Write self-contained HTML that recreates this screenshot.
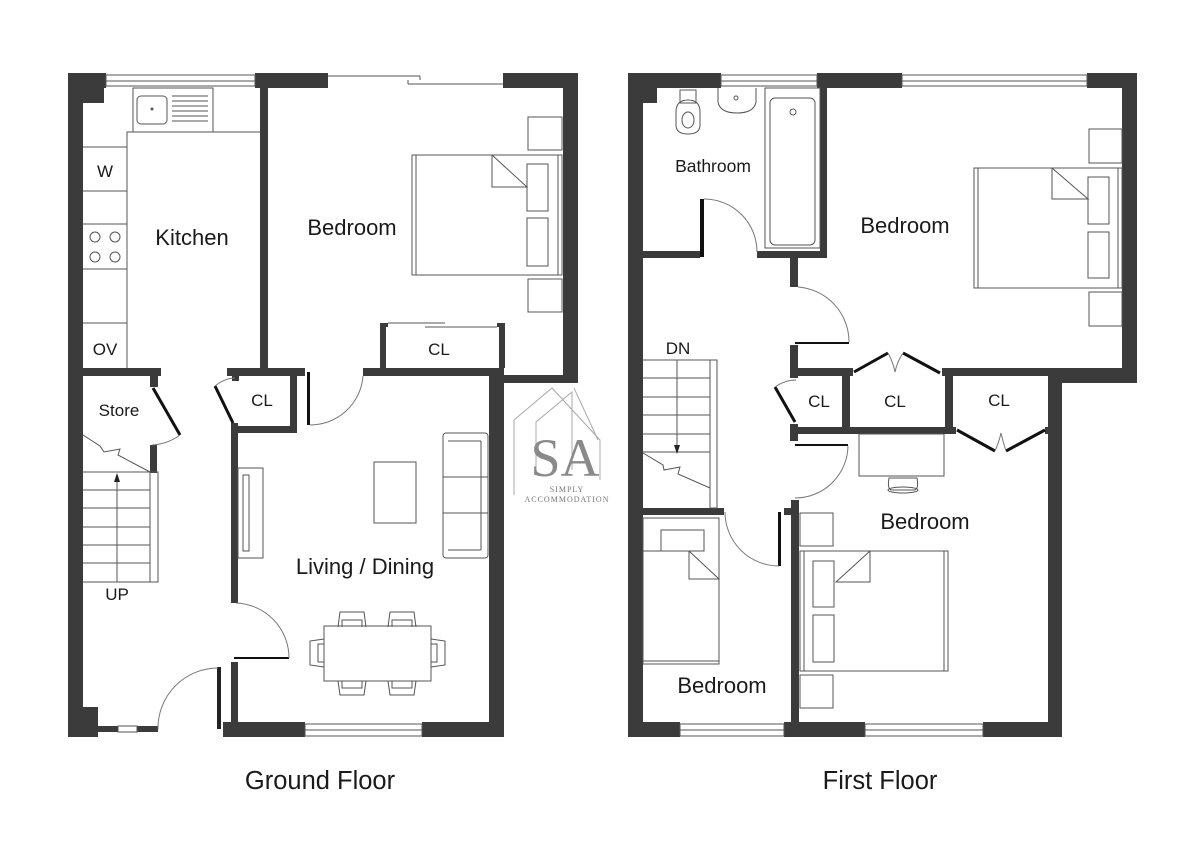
<!DOCTYPE html>
<html><head><meta charset="utf-8"><style>
html,body{margin:0;padding:0;background:#fff}
svg{display:block}
text{font-family:"Liberation Sans",sans-serif;fill:#1a1a1a}
.w{fill:#3b3b3b}
.t{fill:none;stroke:#555;stroke-width:1}
.d{fill:none;stroke:#111;stroke-width:3}
.a{fill:none;stroke:#777;stroke-width:1}
</style></head><body>
<svg width="1200" height="848" viewBox="0 0 1200 848" xmlns="http://www.w3.org/2000/svg">
<rect width="1200" height="848" fill="#fff"/>

<!-- ================= GROUND FLOOR ================= -->
<g>
<rect class="w" x="68" y="73" width="15" height="664"/>
<rect class="w" x="68" y="73" width="38" height="15"/>
<rect class="w" x="83" y="88" width="21" height="15"/>
<rect class="w" x="255" y="73" width="73" height="15"/>
<rect class="w" x="503" y="73" width="75" height="15"/>
<rect class="w" x="563" y="73" width="15" height="310"/>
<rect class="w" x="489" y="375" width="89" height="8"/>
<rect class="w" x="489" y="368" width="15" height="369"/>
<rect class="t" x="106" y="75" width="149" height="11"/><line class="t" x1="106" y1="81" x2="255" y2="81"/>
<line class="t" x1="328" y1="76" x2="420" y2="76"/><line class="t" x1="420" y1="76" x2="420" y2="80"/>
<line class="t" x1="408" y1="84" x2="503" y2="84"/><line class="t" x1="408" y1="80" x2="408" y2="84"/>
<rect class="w" x="260" y="88" width="8" height="288"/>
<rect class="w" x="68" y="368" width="93" height="8"/>
<rect class="w" x="150" y="376" width="8" height="11"/>
<rect class="w" x="150" y="445" width="7" height="28"/>
<rect class="w" x="227" y="368" width="78" height="8"/>
<rect class="w" x="232" y="376" width="7" height="5"/>
<rect class="w" x="290" y="368" width="7" height="65"/>
<rect class="w" x="231" y="426" width="66" height="7"/>
<rect class="w" x="231" y="423" width="7" height="180"/>
<rect class="w" x="231" y="662" width="7" height="75"/>
<rect class="w" x="363" y="368" width="140" height="8"/>
<rect class="w" x="68" y="707" width="30" height="30"/>
<rect class="w" x="98" y="726" width="20" height="6"/>
<rect class="w" x="137" y="726" width="21" height="6"/>
<rect class="t" x="118" y="726" width="19" height="6"/>
<rect class="w" x="223" y="722" width="82" height="15"/>
<rect class="w" x="422" y="722" width="82" height="15"/>
<rect class="t" x="305" y="724" width="117" height="12"/><line class="t" x1="305" y1="730" x2="422" y2="730"/>
<rect x="217" y="667" width="4" height="62" fill="#222"/>
<path class="a" d="M158 729 A60 60 0 0 1 218 668"/>
<line x1="234" y1="658" x2="289" y2="658" stroke="#111" stroke-width="2"/>
<path class="a" d="M236 603 A55 55 0 0 1 289 658"/>
<rect x="307" y="372" width="3" height="53" fill="#111"/>
<path class="a" d="M310 425 A53 53 0 0 0 363 376"/>
<line class="d" x1="153" y1="388" x2="180" y2="435"/>
<path class="a" d="M180 435 Q168 444 152 445"/>
<line class="d" x1="215" y1="386" x2="233" y2="423"/>
<path class="a" d="M215 386 Q225 378 235 378"/>
<rect class="t" x="133" y="88" width="80" height="44"/>
<rect class="t" x="137" y="96" width="30" height="28" rx="4"/>
<circle cx="152" cy="109" r="1.5" fill="#555"/>
<g class="t"><line x1="172" y1="96" x2="208" y2="96"/><line x1="172" y1="101" x2="208" y2="101"/><line x1="172" y1="106" x2="208" y2="106"/><line x1="172" y1="111" x2="208" y2="111"/><line x1="172" y1="116" x2="208" y2="116"/><line x1="172" y1="121" x2="208" y2="121"/></g>
<polyline class="t" points="260,132 127,132 127,368"/>
<line class="t" x1="83" y1="147" x2="127" y2="147"/><line class="t" x1="83" y1="191" x2="127" y2="191"/>
<line class="t" x1="83" y1="224" x2="127" y2="224"/><line class="t" x1="83" y1="269" x2="127" y2="269"/>
<line class="t" x1="83" y1="323" x2="127" y2="323"/>
<circle class="t" cx="95" cy="237" r="5"/><circle class="t" cx="115" cy="237" r="5"/>
<circle class="t" cx="95" cy="257" r="5"/><circle class="t" cx="115" cy="257" r="5"/>
<g class="t">
<line x1="83" y1="472" x2="150" y2="472"/><line x1="83" y1="490" x2="150" y2="490"/><line x1="83" y1="508" x2="150" y2="508"/><line x1="83" y1="527" x2="150" y2="527"/><line x1="83" y1="545" x2="150" y2="545"/><line x1="83" y1="563" x2="150" y2="563"/><line x1="83" y1="582" x2="150" y2="582"/>
<rect x="150" y="472" width="8" height="110"/>
<line x1="117" y1="582" x2="117" y2="478"/>
<polyline points="83,435 100,446 104,452 120,449 118,455 150,472"/>
</g>
<polygon points="117,473 114,482 120,482" fill="#222"/>
<rect class="t" x="528" y="117" width="34" height="33"/>
<rect class="t" x="528" y="279" width="34" height="33"/>
<rect class="t" x="412" y="155" width="150" height="120"/>
<line class="t" x1="416" y1="155" x2="416" y2="275"/><line class="t" x1="558" y1="155" x2="558" y2="275"/>
<rect class="t" x="527" y="164" width="21" height="47"/>
<rect class="t" x="527" y="218" width="21" height="48"/>
<polyline class="t" points="492,155 492,187 527,187 492,155"/>
<rect class="w" x="380" y="323" width="6" height="45"/>
<rect class="w" x="380" y="323" width="8" height="4"/>
<rect class="w" x="499" y="323" width="6" height="45"/>
<rect class="w" x="497" y="323" width="8" height="4"/>
<line class="t" x1="388" y1="323" x2="445" y2="323"/><line class="t" x1="425" y1="327" x2="497" y2="327"/>
<rect class="t" x="238" y="468" width="25" height="90"/>
<rect class="t" x="243" y="475" width="6" height="76"/>
<rect class="t" x="374" y="462" width="42" height="61"/>
<rect class="t" x="443" y="433" width="45" height="125" rx="3"/>
<line class="t" x1="481" y1="441" x2="481" y2="550"/><line class="t" x1="448" y1="441" x2="481" y2="441"/><line class="t" x1="448" y1="550" x2="481" y2="550"/>
<line class="t" x1="443" y1="477" x2="488" y2="477"/><line class="t" x1="443" y1="513" x2="488" y2="513"/>
<rect class="t" x="324" y="626" width="107" height="55"/>
<path class="t" d="M338 627 L340 612 H364 L366 627 M342 627 V620 H362 V627"/>
<path class="t" d="M388 627 L390 612 H414 L416 627 M392 627 V620 H412 V627"/>
<path class="t" d="M338 681 L340 695 H364 L366 681 M342 681 V688 H362 V681"/>
<path class="t" d="M388 681 L390 695 H414 L416 681 M392 681 V688 H412 V681"/>
<path class="t" d="M324 639 L310 641 V665 L324 667 M324 644 H318 V662 H324"/>
<path class="t" d="M431 639 L445 641 V665 L431 667 M431 644 H437 V662 H431"/>
<text x="192" y="245" font-size="22" text-anchor="middle">Kitchen</text>
<text x="352" y="235" font-size="22" text-anchor="middle">Bedroom</text>
<text x="105" y="177" font-size="17" text-anchor="middle">W</text>
<text x="105" y="355" font-size="17" text-anchor="middle">OV</text>
<text x="119" y="416" font-size="17" text-anchor="middle">Store</text>
<text x="262" y="406" font-size="17" text-anchor="middle">CL</text>
<text x="439" y="355" font-size="17" text-anchor="middle">CL</text>
<text x="365" y="574" font-size="22" text-anchor="middle">Living / Dining</text>
<text x="117" y="600" font-size="17" text-anchor="middle">UP</text>
<text x="320" y="789" font-size="25.5" text-anchor="middle">Ground Floor</text>
</g>

<g fill="none" stroke="#aaa" stroke-width="1">
<polyline points="514,495 514,420 552,388 600,440 600,480"/>
<polyline points="536,470 536,422 572,392 572,470"/>
<polyline points="574,388 598,440"/>
</g>
<text x="565" y="476" font-size="54" style="font-family:'Liberation Serif',serif;fill:#8a8a8a" text-anchor="middle">SA</text>
<text x="567" y="492" font-size="8" style="font-family:'Liberation Serif',serif;fill:#777;letter-spacing:1px" text-anchor="middle">SIMPLY</text>
<text x="567" y="502" font-size="8" style="font-family:'Liberation Serif',serif;fill:#777;letter-spacing:1px" text-anchor="middle">ACCOMMODATION</text>

<!-- ================= FIRST FLOOR ================= -->
<g>
<rect class="w" x="628" y="73" width="15" height="664"/>
<rect class="w" x="628" y="73" width="93" height="15"/>
<rect class="w" x="643" y="88" width="14" height="15"/>
<rect class="w" x="817" y="73" width="85" height="15"/>
<rect class="w" x="1087" y="73" width="50" height="15"/>
<rect class="w" x="1122" y="73" width="15" height="310"/>
<rect class="w" x="1048" y="376" width="89" height="7"/>
<rect class="w" x="942" y="368" width="195" height="8"/>
<rect class="w" x="1048" y="368" width="14" height="369"/>
<rect class="t" x="721" y="75" width="96" height="11"/><line class="t" x1="721" y1="81" x2="817" y2="81"/>
<rect class="t" x="902" y="75" width="185" height="11"/><line class="t" x1="902" y1="81" x2="1087" y2="81"/>
<rect class="w" x="628" y="722" width="52" height="15"/>
<rect class="w" x="784" y="722" width="81" height="15"/>
<rect class="w" x="983" y="722" width="79" height="15"/>
<rect class="t" x="680" y="724" width="104" height="12"/><line class="t" x1="680" y1="730" x2="784" y2="730"/>
<rect class="t" x="865" y="724" width="118" height="12"/><line class="t" x1="865" y1="730" x2="983" y2="730"/>
<rect class="w" x="820" y="88" width="7" height="169"/>
<rect class="w" x="643" y="251" width="57" height="7"/>
<rect class="w" x="757" y="251" width="70" height="7"/>
<rect x="700" y="199" width="4" height="58" fill="#111"/>
<path class="a" d="M704 199 A53 53 0 0 1 757 252"/>
<path class="t" d="M680 90 H696 V103 H680 Z M676 112 Q676 100 688 100 Q700 100 700 112 V125 Q700 134 688 134 Q676 134 676 125 Z"/>
<ellipse class="t" cx="688" cy="120" rx="6" ry="8"/>
<path class="t" d="M718 88 V102 Q720 113 737 113 Q754 113 756 102 V88"/>
<circle class="t" cx="736" cy="98" r="2"/>
<rect class="t" x="765" y="88" width="55" height="160"/>
<rect class="t" x="770" y="98" width="45" height="147" rx="5"/>
<circle class="t" cx="793" cy="112" r="3"/>
<rect class="w" x="790" y="257" width="8" height="30"/>
<line x1="795" y1="343" x2="849" y2="343" stroke="#111" stroke-width="2"/>
<path class="a" d="M798 287 A55 55 0 0 1 849 342"/>
<rect class="w" x="790" y="345" width="8" height="33"/>
<rect class="w" x="790" y="368" width="63" height="8"/>
<rect class="w" x="842" y="368" width="8" height="66"/>
<rect class="w" x="945" y="368" width="8" height="66"/>
<rect class="w" x="790" y="427" width="166" height="7"/>
<rect class="w" x="790" y="424" width="8" height="17"/>
<rect class="w" x="1045" y="427" width="5" height="7"/>
<line class="d" x1="775" y1="387" x2="795" y2="422"/>
<path class="a" d="M775 387 Q785 380 796 380"/>
<polyline class="d" points="854,372 888,353"/><polyline class="d" points="903,353 940,373"/>
<path class="a" d="M888 353 Q893 362 895 372 Q897 362 903 353"/>
<polyline class="d" points="957,430 995,451"/><polyline class="d" points="1006,451 1045,430"/>
<path class="a" d="M995 451 Q999 442 1001 433 Q1003 442 1006 451"/>
<line x1="795" y1="445" x2="848" y2="445" stroke="#111" stroke-width="2"/>
<path class="a" d="M848 446 A53 53 0 0 1 795 498"/>
<rect class="w" x="791" y="500" width="8" height="222"/>
<rect class="w" x="784" y="508" width="7" height="7"/>
<rect x="778" y="512" width="3" height="54" fill="#111"/>
<path class="a" d="M725 512 A54 54 0 0 0 779 566"/>
<rect class="w" x="643" y="508" width="81" height="7"/>
<g class="t">
<line x1="643" y1="360" x2="717" y2="360"/>
<line x1="643" y1="378" x2="710" y2="378"/><line x1="643" y1="397" x2="710" y2="397"/><line x1="643" y1="415" x2="710" y2="415"/><line x1="643" y1="434" x2="710" y2="434"/><line x1="643" y1="452" x2="710" y2="452"/>
<rect x="710" y="360" width="7" height="148"/>
<line x1="677" y1="360" x2="677" y2="446"/>
<polyline points="643,453 663,465 664,470 680,467 678,474 710,488"/>
</g>
<polygon points="677,454 674,445 680,445" fill="#222"/>
<rect class="t" x="1089" y="129" width="33" height="34"/>
<rect class="t" x="1089" y="292" width="33" height="34"/>
<rect class="t" x="974" y="168" width="148" height="120"/>
<line class="t" x1="978" y1="168" x2="978" y2="288"/><line class="t" x1="1118" y1="168" x2="1118" y2="288"/>
<rect class="t" x="1088" y="177" width="21" height="47"/>
<rect class="t" x="1088" y="232" width="21" height="46"/>
<polyline class="t" points="1052,168 1052,199 1088,199 1052,168"/>
<rect class="t" x="859" y="434" width="85" height="42"/>
<path class="t" d="M889 478 Q887 490 892 490 H914 Q919 490 917 478 Z"/>
<ellipse class="t" cx="903" cy="490" rx="15" ry="3"/>
<rect class="t" x="800" y="513" width="33" height="33"/>
<rect class="t" x="800" y="675" width="33" height="33"/>
<rect class="t" x="800" y="551" width="148" height="120"/>
<line class="t" x1="804" y1="551" x2="804" y2="671"/><line class="t" x1="944" y1="551" x2="944" y2="671"/>
<rect class="t" x="813" y="561" width="21" height="46"/>
<rect class="t" x="813" y="615" width="21" height="47"/>
<polyline class="t" points="870,551 870,582 836,582 870,551"/>
<rect class="t" x="643" y="518" width="76" height="146"/>
<rect class="t" x="661" y="530" width="43" height="21"/>
<line class="t" x1="643" y1="551" x2="689" y2="551"/>
<polyline class="t" points="689,551 689,579 719,579 689,551"/>
<line class="t" x1="643" y1="661" x2="719" y2="661"/>
<text x="713" y="172" font-size="17.5" text-anchor="middle">Bathroom</text>
<text x="905" y="233" font-size="22" text-anchor="middle">Bedroom</text>
<text x="678" y="354" font-size="17" text-anchor="middle">DN</text>
<text x="819" y="407" font-size="17" text-anchor="middle">CL</text>
<text x="895" y="407" font-size="17" text-anchor="middle">CL</text>
<text x="999" y="406" font-size="17" text-anchor="middle">CL</text>
<text x="925" y="529" font-size="22" text-anchor="middle">Bedroom</text>
<text x="722" y="693" font-size="22" text-anchor="middle">Bedroom</text>
<text x="880" y="789" font-size="25.5" text-anchor="middle">First Floor</text>
</g>
</svg>
</body></html>
